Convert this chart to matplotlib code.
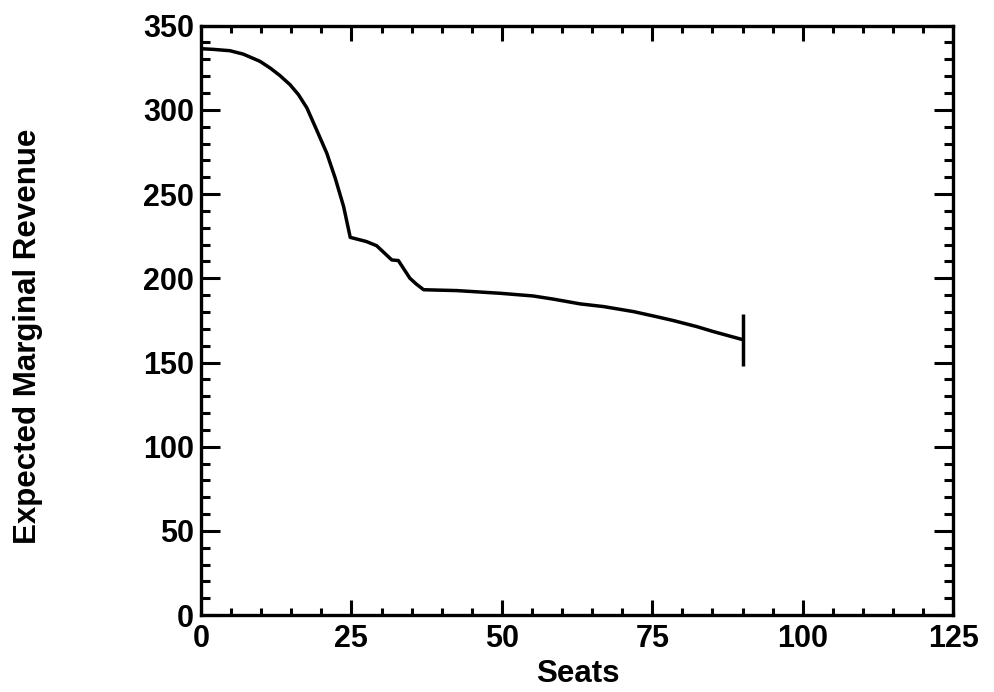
import matplotlib
matplotlib.use("Agg")
import matplotlib.pyplot as plt
from matplotlib.ticker import MultipleLocator

seats = [0, 2.0, 4.8, 7.0, 9.8, 11.5, 13.1, 14.8, 16.2, 17.6, 19.2, 20.9,
         22.3, 23.7, 24.8, 27.5, 29.2, 31.7, 32.8, 34.7, 35.8, 37.0, 42.5,
         49.7, 55.2, 58.6, 63.0, 66.9, 71.9, 75.7, 78.5, 82.4, 85.2, 90.0]
revenue = [336.3, 335.9, 335.1, 333.1, 328.8, 324.8, 320.4, 314.9, 309.0,
           301.1, 288.2, 274.3, 259.5, 242.6, 224.3, 221.8, 219.3, 210.9,
           210.5, 200.1, 196.5, 193.2, 192.7, 191.1, 189.5, 187.6, 184.8,
           183.2, 180.2, 177.2, 174.9, 171.3, 168.3, 163.6]
end_bar_low = 148
end_bar_high = 179

x_ticks = [0, 25, 50, 75, 100, 125]
y_ticks = [0, 50, 100, 150, 200, 250, 300, 350]

plt.rcParams['font.family'] = ['Liberation Sans', 'DejaVu Sans']
plt.rcParams['font.weight'] = 'bold'

fig = plt.figure(figsize=(9.95, 6.92), dpi=100)
ax = fig.add_axes([0.202, 0.111, 0.756, 0.852])

ax.plot(seats, revenue, color='black', lw=2.5, solid_joinstyle='round',
        solid_capstyle='butt')
ax.vlines(seats[-1], end_bar_low, end_bar_high, color='black', lw=2.5)

ax.set_xlim(0, 125)
ax.set_ylim(0, 350)
ax.set_xticks(x_ticks)
ax.set_yticks(y_ticks)
ax.xaxis.set_minor_locator(MultipleLocator(5))
ax.yaxis.set_minor_locator(MultipleLocator(10))
ax.tick_params(which='both', direction='in', top=True, right=True,
               width=2.2, labelsize=22, colors='black')
ax.tick_params(axis='x', which='major', length=11, pad=6.5)
ax.tick_params(axis='x', which='minor', length=5)
ax.tick_params(axis='y', which='major', length=14, pad=5)
ax.tick_params(axis='y', which='minor', length=6.5)
for lab in ax.get_xticklabels() + ax.get_yticklabels():
    lab.set_fontweight('bold')
for s in ax.spines.values():
    s.set_linewidth(2.4)

fig.text(578 / 995, 0.014, 'Seats', fontsize=22.5, fontweight='bold',
         ha='center', va='baseline')
fig.text(28 / 995, 0.514, 'Expected Marginal Revenue', fontsize=22.5,
         fontweight='bold', rotation=90, ha='center', va='center')

fig.savefig('out.png', dpi=100)
